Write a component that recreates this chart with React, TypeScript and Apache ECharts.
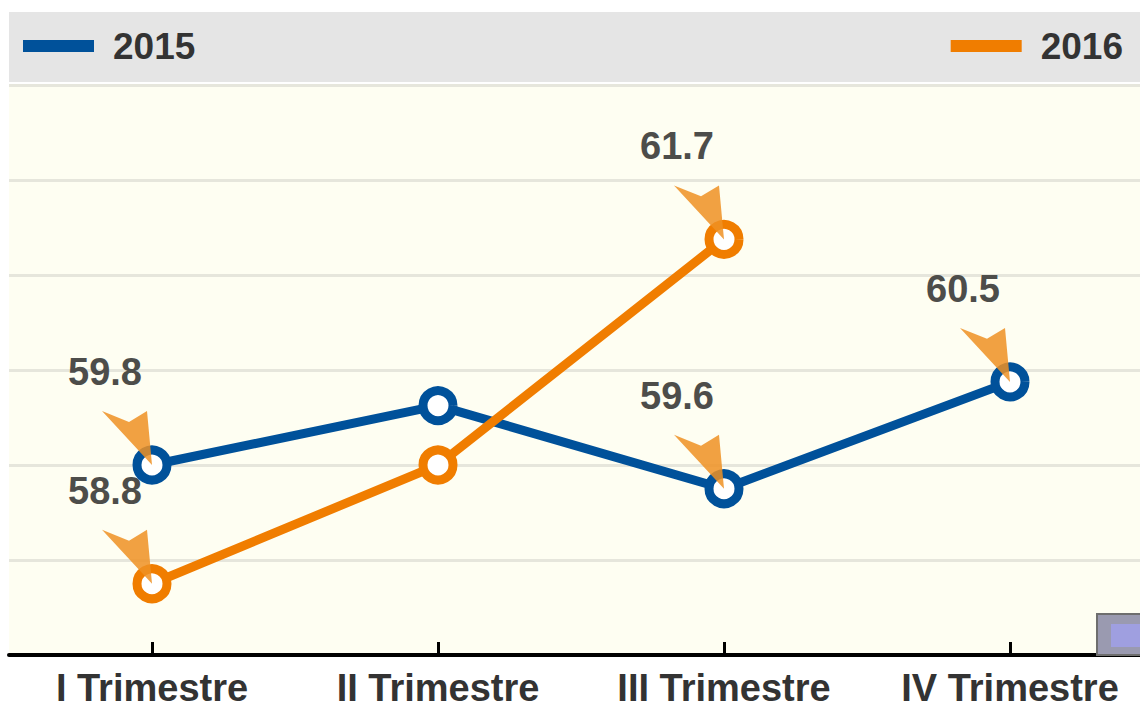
import React, { useEffect, useRef } from "react";
import * as echarts from "echarts";

const categories = ["I Trimestre", "II Trimestre", "III Trimestre", "IV Trimestre"];
const values2015 = [59.8, 60.3, 59.6, 60.5];
const values2016 = [58.8, 59.8, 61.7, null];
const annotated2015 = [0, 2, 3];
const annotated2016 = [0, 2];
const seriesNames = ["2015", "2016"];
const yMin = 58.2;
const yMax = 63.0;

const BLUE = "#00519a";
const ORANGE = "#f07d00";
const DART = "path://M0,0 L27,11 L45,0 L50,54 Z";
const CANVAS_W = 1160; // wider than the window: plot continues past the right edge

function markData(values: (number | null)[], idx: number[]) {
  return idx.map((i) => ({ coord: [i, values[i]], value: values[i] }));
}

function makeSeries(name: string, values: (number | null)[], color: string, idx: number[]) {
  return {
    name,
    type: "line",
    yAxisIndex: 0,
    data: values,
    lineStyle: { color, width: 9 },
    itemStyle: { color: "#ffffff", borderColor: color, borderWidth: 9 },
    color,
    symbol: "circle",
    symbolSize: 30,
    showSymbol: true,
    markPoint: {
      symbol: DART,
      symbolSize: [50, 54],
      symbolOffset: [-25, -27],
      itemStyle: { color: "rgba(239,145,35,0.85)" },
      label: {
        show: true,
        position: "inside",
        offset: [-22, -66],
        color: "#4d4d4a",
        fontSize: 38,
        fontWeight: "bold",
        fontFamily: "Liberation Sans, Arial, sans-serif",
        formatter: (p: any) => Number(p.value).toFixed(1),
      },
      data: markData(values, idx),
    },
  };
}

export default function App() {
  const ref = useRef<HTMLDivElement>(null);
  useEffect(() => {
    document.body.style.margin = "0";
    document.body.style.overflow = "hidden";
    const chart = echarts.init(ref.current!, null, { renderer: "svg" });
    const font = "Liberation Sans, Arial, sans-serif";
    const legendText = {
      fontSize: 37,
      fontWeight: "bold",
      color: "#333333",
      fontFamily: font,
      lineHeight: 40,
      padding: [0, 0, 0, 14],
    };
    chart.setOption({
      animation: false,
      backgroundColor: "#ffffff",
      textStyle: { fontFamily: font },
      graphic: [
        { type: "rect", shape: { x: 9, y: 12, width: 1151, height: 70 }, style: { fill: "#e5e5e5" }, z: 0 },
        {
          type: "rect",
          shape: { x: 1097, y: 614, width: 60, height: 41 },
          style: { fill: "#9a9ab0", stroke: "#6e6e6e", lineWidth: 2 },
          z: 20,
        },
        {
          type: "rect",
          shape: { x: 1111, y: 624, width: 40, height: 23 },
          style: { fill: "#9f9fe0" },
          z: 21,
        },
      ],
      legend: [
        {
          data: [{ name: seriesNames[0], itemStyle: { color: BLUE, borderWidth: 0 } }],
          left: 23,
          top: 26,
          padding: 0,
          icon: "rect",
          itemWidth: 71,
          itemHeight: 12,
          itemGap: 0,
          textStyle: legendText,
        },
        {
          data: [{ name: seriesNames[1], itemStyle: { color: ORANGE, borderWidth: 0 } }],
          right: 17 + (CANVAS_W - 1140),
          top: 26,
          padding: 0,
          icon: "rect",
          itemWidth: 71,
          itemHeight: 12,
          itemGap: 0,
          textStyle: legendText,
        },
      ],
      grid: {
        left: 9,
        right: CANVAS_W - 1153,
        top: 85,
        bottom: 53,
        show: true,
        backgroundColor: "#fefef2",
        borderWidth: 0,
        containLabel: false,
      },
      xAxis: {
        type: "category",
        data: categories,
        boundaryGap: true,
        axisLine: { show: true, lineStyle: { color: "#000000", width: 4 } },
        axisTick: {
          show: true,
          inside: true,
          length: 13,
          interval: 0,
          alignWithLabel: true,
          lineStyle: { color: "#000000", width: 3 },
        },
        axisLabel: {
          interval: 0,
          color: "#333333",
          fontSize: 38,
          lineHeight: 32,
          fontWeight: "bold",
          fontFamily: font,
          margin: 17,
        },
        splitLine: { show: false },
        z: 10,
      },
      yAxis: [
        {
          type: "value",
          min: yMin,
          max: yMax,
          show: false,
          splitLine: { show: false },
        },
        {
          type: "value",
          min: 0,
          max: 6,
          interval: 1,
          position: "right",
          axisLine: { show: false },
          axisTick: { show: false },
          axisLabel: { show: false },
          splitLine: { show: true, lineStyle: { color: "#e6e6dc", width: 3 } },
        },
      ],
      series: [
        makeSeries(seriesNames[0], values2015, BLUE, annotated2015),
        makeSeries(seriesNames[1], values2016, ORANGE, annotated2016),
      ],
    });
    return () => chart.dispose();
  }, []);
  return <div ref={ref} style={{ position: "fixed", left: 0, top: 0, width: CANVAS_W, height: 708 }} />;
}
